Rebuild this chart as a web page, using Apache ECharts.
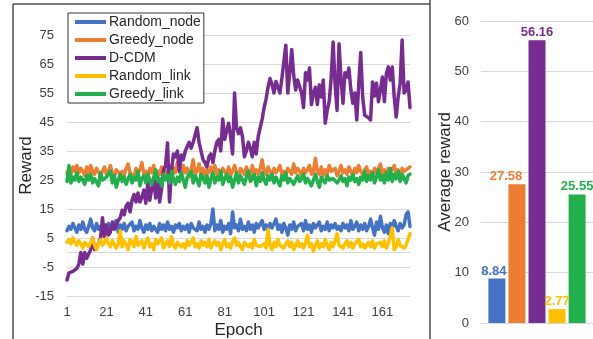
<!DOCTYPE html>
<html>
<head>
<meta charset="utf-8">
<script src="https://cdn.jsdelivr.net/npm/echarts@6/dist/echarts.min.js"></script>
<style>
html,body{margin:0;padding:0;background:#fff;}
#chart{width:593px;height:339px;}
</style>
</head>
<body>
<div id="chart"></div>
<script>
const seriesNames = ['Random_node', 'Greedy_node', 'D-CDM', 'Random_link', 'Greedy_link'];
const colors = ['#4472C4', '#ED7D31', '#772D8F', '#FFC000', '#21B04B'];
const xTickStep = 20;
const yTicksLeft = {min: -15, max: 75, interval: 10};
const yTicksRight = {min: 0, max: 60, interval: 10};

const randomNode = [
7.5, 9, 8, 10, 8.5, 7, 9.5, 8, 10.5, 8,
7, 9, 11.5, 8.5, 7.5, 10, 8, 9, 6.5, 9.5,
8, 10, 7.5, 9, 8.5, 11, 7, 9.5, 8, 10,
7.5, 9, 8.5, 10.5, 7.5, 9, 8, 11, 8.5, 7,
9.5, 8, 10, 7.5, 9, 8.5, 7, 10, 8, 9.5,
7.5, 10.5, 8, 9, 7, 9.5, 8.5, 10, 7.5, 9,
8, 9.5, 7, 10, 8.5, 9, 7.5, 10.5, 8, 9,
7, 9.5, 8, 10, 15, 7.5, 9.5, 8, 11, 7,
9, 8, 10, 6.5, 14, 8.5, 9.5, 7.5, 11.5, 8,
9, 7.5, 10.5, 8, 9.5, 7, 10, 8.5, 9, 11,
8, 9.5, 7.5, 10, 8.5, 9, 11.5, 8, 9.5, 7,
10, 8.5, 6, 9.5, 8, 10.5, 7.5, 9, 8.5, 10,
7.5, 11, 8, 9.5, 7, 10, 8.5, 9, 10.5, 7.5,
9, 8, 10.5, 7.5, 9.5, 8.5, 10, 8, 9, 7.5,
10, 8.5, 9.5, 7.5, 11, 8, 9, 10.5, 7.5, 9.5,
8, 10, 7.5, 9, 11.5, 8.5, 6, 10.5, 8, 12.5,
8.5, 7, 9.5, 6.5, 10, 8.5, 11, 9, 7.5, 10,
8.5, 9.5, 13, 14, 9
];

const greedyNode = [
27.5, 28.5, 27, 29.5, 28, 30, 27.5, 29, 28, 26.5, 29.5, 27, 30, 28, 27, 29, 28.5, 26.5, 28, 29.5,
27, 28, 30, 27.5, 26, 28.5, 29, 27, 28, 26.5, 29, 30.5, 27.5, 28, 26, 29, 27.5, 28.5, 31, 27,
28, 26.5, 29, 27.5, 30, 26, 28, 27, 29.5, 25.5, 28, 27, 30, 26.5, 29, 27.5, 31, 28, 26.5, 30,
27.5, 29, 26, 28.5, 32, 27, 28, 30.5, 27, 29, 26.5, 28.5, 27.5, 29.5, 28, 30, 27, 28.5, 26.5, 29,
28, 27, 29.5, 26.5, 28, 30, 27.5, 26, 29, 28, 27, 29.5, 28, 26.5, 30, 27.5, 28.5, 27, 29, 32,
28, 27, 29.5, 28, 26.5, 29, 27.5, 28.5, 30, 27, 28, 26.5, 29, 28, 27, 30.5, 27.5, 29, 28, 26.5,
29, 27.5, 28.5, 30, 27, 28, 32.5, 28, 27, 29.5, 26.5, 28.5, 27, 30, 28, 27.5, 29, 26.5, 28, 30,
27.5, 28.5, 27, 29.5, 28, 26.5, 29, 27.5, 30, 28, 27, 28.5, 29.5, 27, 28, 26.5, 29, 27.5, 28, 30.5,
27, 28.5, 26.5, 29, 27.5, 28, 30, 27, 28.5, 27, 29, 28, 27.5, 29, 29.5
];

const dcdm = [
-9.5, -7, -7, -6.5, -6, -5.5, -4, 0, -4, 0,
-2, -1.5, 1, 5, 1, 2, 3, 5, 12, 5.5,
9.5, 6, 7, 10.5, 8, 9.5, 11, 12, 14.6, 13,
16, 17, 14, 18, 20, 17.4, 20.5, 17.4, 19, 21.5,
17, 24, 18, 22, 25, 18.8, 26, 17.4, 22, 28.4,
30, 37.8, 17.4, 28, 34, 33, 35, 28, 33.6, 32,
35, 35, 38, 36, 38, 38, 43, 38, 35, 32,
31, 29.5, 33, 34, 31, 35, 38, 39, 35, 46,
39, 42, 44.6, 40, 34, 55, 43, 41, 43, 40,
33, 35, 38, 36, 33, 38, 34, 40, 40, 46,
50, 53, 57, 60, 58, 55, 59, 57, 55, 60,
59.5, 71.5, 55, 62, 70, 61, 56, 59.5, 59, 55,
50, 62, 59.5, 63.6, 51, 55, 57, 51, 57.8, 53.6,
59.5, 44.6, 49, 52, 60, 72.6, 58, 49, 72, 60,
51.5, 62, 60.5, 63.6, 56, 51.5, 55, 45.7, 58, 69,
53.6, 47.4, 48, 46.4, 45.7, 58.8, 54, 58.4, 52, 51.5,
60.5, 52, 61.7, 64, 59.5, 64, 53.6, 46.7, 53.6, 58.4,
73.3, 55, 56, 58.8, 50
];

const randomLink = [
3.5, 4.5, 3, 5, 3.5, 2.5, 4, 3, 1.5, 3.5,
4, 2, 3.5, 5, 2.5, 1, 3, 4.5, 2.5, 3.5,
5, 3, 2, 4, 3.5, 1.5, 3, 7.5, 2, 4,
3, 1, 4.5, 3.5, 2, 5.5, 2.5, 3, 4, 1.5,
3.5, 5, 2, 3, 1, 4.5, 3, 2.5, 5, 1.5,
3, 4, 2, 5.5, 2.5, 1.5, 3.5, 4, 2, 3,
1.5, 4, 2.5, 3.5, 5, 2, 3, 1.5, 4, 2.5,
3.5, 2, 4.5, 1.5, 3, 4, 2.5, 3.5, 1, 3,
4.5, 2, 3, 1.5, 4, 5, 2.5, 3.5, 2, 1,
3.5, 4, 2, 3, 1.5, 4.5, 2.5, 3, 2, 2,
3, 1.5, 8, 2.5, 1, 3.5, 2, 4.5, 2.5, 3,
1.5, 3, 4, 2, 3.5, 1, 2.5, 4, 2, 3,
1.5, 3.5, 6, 2, 3, 0.5, 2.5, 4, 1.5, 3,
2, 4.5, 2.5, 1, 3.5, 2, 4, 6.5, 2.5, 3,
1.5, 3, 4, 2, 3.5, 1.5, 3, 2.5, 4.5, 2,
3, 1.5, 2.5, 3.5, 2, 4, 1.5, 3, 2.5, 3.5,
2, 4, 1.5, 3, 3.5, 8.5, 1, 2, 4.5, 2.5,
3, 1.5, 2.5, 3, 6.5
];

const greedyLink = [
24.5, 30, 24, 26, 25, 27.5, 24.5, 26, 25, 23.5,
26.5, 25, 27, 24, 25.5, 26, 23, 27.5, 25, 24.5,
26, 25.5, 28, 24, 26.5, 22.5, 25, 27, 24.5, 26,
23.5, 25.5, 27, 24, 26, 25, 28, 23, 25.5, 26.5,
24, 27, 25, 23.5, 26, 28.5, 24.5, 25.5, 23, 27,
25, 26.5, 24, 28, 25.5, 23.5, 26, 24.5, 27.5, 25,
22.5, 26, 25.5, 28, 24, 26.5, 25, 23, 27, 25.5,
24, 26.5, 22.5, 25.5, 27.5, 24, 26, 25, 28, 23.5,
25.5, 27, 24.5, 26, 22.5, 25, 27.5, 24, 26.5, 25,
23.5, 26, 28, 24.5, 25.5, 27, 23, 26, 24.5, 27.5,
25, 23.5, 26.5, 25, 27, 24, 26, 25.5, 23, 26.5,
25, 27.5, 24, 25.5, 26, 23.5, 25, 26.5, 24.5, 25.5,
27, 24, 25.5, 26, 23, 25, 27, 24.5, 22.5, 26,
25.5, 24, 26.5, 25, 24.5, 25.5, 26, 24, 25, 26.5,
24.5, 25.5, 23, 26, 25, 27, 24.5, 25.5, 23.5, 26,
25, 28, 24.5, 26.5, 25, 27.5, 24, 26, 28.5, 25,
26.5, 24, 27.5, 25, 29, 24.5, 27, 25.5, 28, 24.5,
27, 25.5, 24, 26.5, 27
];

const averageReward = [8.84, 27.58, 56.16, 2.77, 25.55];

const lineData = [randomNode, greedyNode, dcdm, randomLink, greedyLink];
const epochs = dcdm.map((_, i) => String(i + 1));

const FONT = "'Liberation Sans', Arial, sans-serif";
const chart = echarts.init(document.getElementById('chart'), null, {renderer: 'canvas'});

const lineSeries = seriesNames.map((name, i) => ({
  name: name,
  type: 'line',
  xAxisIndex: 0,
  yAxisIndex: 0,
  data: lineData[i],
  symbol: 'none',
  showSymbol: false,
  lineStyle: {color: colors[i], width: 3.5, join: 'round', cap: 'round'},
  itemStyle: {color: colors[i]},
  z: 3 + i,
  animation: false
}));

const labelOffsets = [[-3, 0], [-11, 0], [0, 0], [0, 0], [0, 0]];
const barSeries = seriesNames.map((name, i) => ({
  name: name + ' avg',
  type: 'bar',
  xAxisIndex: 1,
  yAxisIndex: 1,
  data: [averageReward[i]],
  barWidth: 17,
  barGap: '18%',
  itemStyle: {color: colors[i]},
  label: {
    show: true,
    position: 'top',
    distance: 1,
    offset: labelOffsets[i],
    color: colors[i],
    fontWeight: 'bold',
    fontSize: 13,
    fontFamily: FONT
  },
  animation: false
}));

const zeroLine = {
  name: 'zero',
  type: 'line',
  xAxisIndex: 0,
  yAxisIndex: 0,
  data: [],
  z: 1,
  markLine: {
    silent: true,
    symbol: 'none',
    label: {show: false},
    lineStyle: {color: '#d9d9d9', type: 'solid', width: 1},
    data: [{yAxis: 0}],
    animation: false
  }
};

chart.setOption({
  animation: false,
  textStyle: {fontFamily: FONT},
  grid: [
    {left: 67, right: 183, top: 35, bottom: 43, outerBoundsMode: 'none', containLabel: false},
    {left: 481, right: 0, top: 21, bottom: 16, outerBoundsMode: 'none', containLabel: false}
  ],
  legend: {
    data: seriesNames,
    orient: 'vertical',
    left: 68,
    top: 13,
    icon: 'rect',
    itemWidth: 31,
    itemHeight: 4,
    itemGap: 2,
    padding: [1, 3, 1, 7],
    backgroundColor: '#fff',
    borderColor: '#333',
    borderWidth: 1,
    textStyle: {fontSize: 14, color: '#262626', fontFamily: FONT, lineHeight: 16, padding: [0, 0, 0, -2]},
    z: 20
  },
  xAxis: [
    {
      type: 'category',
      gridIndex: 0,
      data: epochs,
      boundaryGap: false,
      name: 'Epoch',
      nameLocation: 'middle',
      nameGap: 26,
      nameMoveOverlap: false,
      nameTextStyle: {fontSize: 17, color: '#262626', fontFamily: FONT},
      axisLine: {show: false},
      axisTick: {show: false},
      axisLabel: {interval: xTickStep - 1, fontSize: 13, color: '#404040', margin: 10, fontFamily: FONT},
      splitLine: {show: false}
    },
    {
      type: 'category',
      gridIndex: 1,
      data: ['avg'],
      axisLine: {show: false},
      axisTick: {show: false},
      axisLabel: {show: false},
      splitLine: {show: false}
    }
  ],
  yAxis: [
    {
      type: 'value',
      gridIndex: 0,
      min: yTicksLeft.min,
      max: yTicksLeft.max,
      interval: yTicksLeft.interval,
      name: 'Reward',
      nameLocation: 'middle',
      nameGap: 32,
      nameMoveOverlap: false,
      nameTextStyle: {fontSize: 17, color: '#262626', fontFamily: FONT},
      axisLine: {show: false},
      axisTick: {show: false},
      axisLabel: {fontSize: 13, color: '#404040', margin: 13, fontFamily: FONT},
      splitLine: {lineStyle: {color: '#d9d9d9', width: 1}}
    },
    {
      type: 'value',
      gridIndex: 1,
      min: yTicksRight.min,
      max: yTicksRight.max,
      interval: yTicksRight.interval,
      name: 'Average reward',
      nameLocation: 'middle',
      nameGap: 27,
      nameMoveOverlap: false,
      nameTextStyle: {fontSize: 17, color: '#262626', fontFamily: FONT},
      axisLine: {show: false},
      axisTick: {show: false},
      axisLabel: {fontSize: 13, color: '#404040', margin: 12, fontFamily: FONT},
      splitLine: {lineStyle: {color: '#d9d9d9', width: 1}}
    }
  ],
  graphic: [
    {type: 'line', shape: {x1: 13, y1: 4, x2: 430, y2: 4}, style: {stroke: '#4d4d4d', lineWidth: 1.5}, z: 30},
    {type: 'line', shape: {x1: 13, y1: 4, x2: 13, y2: 339}, style: {stroke: '#4d4d4d', lineWidth: 1.5}, z: 30},
    {type: 'line', shape: {x1: 430, y1: 0, x2: 430, y2: 339}, style: {stroke: '#4d4d4d', lineWidth: 1.5}, z: 30}
  ],
  series: [zeroLine].concat(lineSeries, barSeries)
});
</script>
</body>
</html>
